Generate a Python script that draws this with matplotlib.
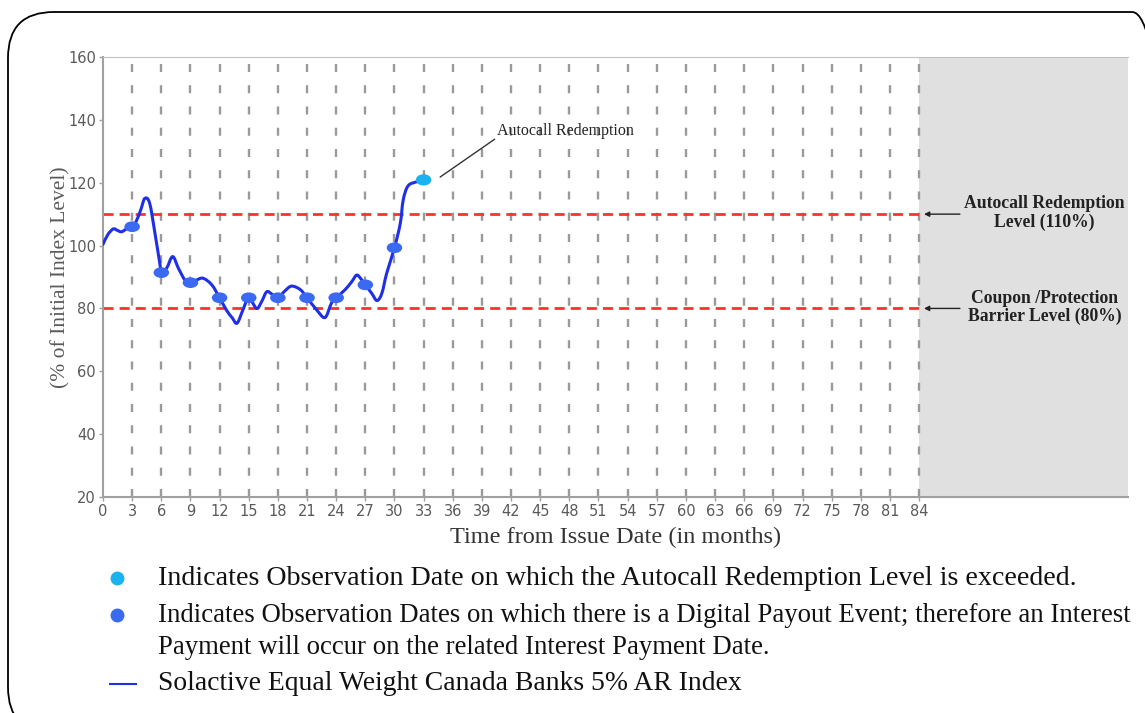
import matplotlib
matplotlib.use("Agg")
import matplotlib.pyplot as plt
from matplotlib.patches import Ellipse, FancyBboxPatch, PathPatch
from matplotlib.path import Path
from matplotlib.lines import Line2D

# index path (months, % of initial level)
index_months = [0, 0.5, 1.06, 1.5, 1.92, 2.5, 3.0, 3.4, 3.9, 4.3, 4.8, 5.35, 5.87, 6.0,
                6.55, 7.17, 7.76, 8.44, 9.0, 9.6, 10.3, 11.2, 12.0, 12.7, 13.3, 13.8,
                14.4, 15.0, 15.8, 16.3, 16.85, 17.4, 18.0, 18.7, 19.4, 20.3, 21.0, 22.0,
                22.85, 23.5, 24.0, 24.9, 25.6, 26.1, 26.5, 27.0, 27.66, 28.2, 28.7, 29.2,
                30.0, 30.6, 30.9, 31.4, 32.3, 33.1]
index_values = [100.4, 103.5, 105.3, 104.8, 104.4, 105.5, 106.2, 107.6, 111.5, 115.0, 113.5,
                103.9, 93.8, 91.4, 92.8, 96.5, 92.8, 89.0, 88.2, 89.0, 89.6, 87.5, 83.4,
                79.5, 77.0, 75.3, 79.5, 83.4, 80.0, 82.0, 85.3, 84.5, 83.4, 85.5, 87.1,
                86.0, 83.4, 79.5, 77.1, 81.6, 83.4, 85.9, 88.5, 90.6, 89.6, 87.5, 84.8,
                82.5, 84.8, 91.2, 99.3, 107.1, 114.5, 119.0, 120.3, 120.9]

obs_months = [3, 6, 9, 12, 15, 18, 21, 24, 27, 30]
obs_values = [106.0, 91.4, 88.2, 83.4, 83.4, 83.4, 83.4, 83.4, 87.5, 99.3]
autocall_month = [33]
autocall_value = [120.9]

autocall_level = 110
barrier_level = 80
x_ticks = list(range(0, 85, 3))
y_ticks = list(range(20, 161, 20))

line_blue = "#1f2fe6"
dot_blue = "#3a6af2"
dot_cyan = "#1ab2ef"
grey_txt = "#5a5a5a"
serif = "Liberation Serif"


def smooth_path(xs, ys):
    # Catmull-Rom style bezier through the read points (drawing only)
    verts = [(xs[0], ys[0])]
    codes = [Path.MOVETO]
    n = len(xs)
    for i in range(n - 1):
        x0, y0 = (xs[i - 1], ys[i - 1]) if i > 0 else (xs[i], ys[i])
        x1, y1 = xs[i], ys[i]
        x2, y2 = xs[i + 1], ys[i + 1]
        x3, y3 = (xs[i + 2], ys[i + 2]) if i + 2 < n else (x2, y2)
        verts += [(x1 + (x2 - x0) / 6, y1 + (y2 - y0) / 6),
                  (x2 - (x3 - x1) / 6, y2 - (y3 - y1) / 6),
                  (x2, y2)]
        codes += [Path.CURVE4] * 3
    return Path(verts, codes)


fig = plt.figure(figsize=(11.45, 7.13), dpi=100)

# rounded frame round the whole panel
frame = FancyBboxPatch((8 / 1145, -20 / 713), 1170 / 1145, 721 / 713,
                       boxstyle="round,pad=0,rounding_size=0.04",
                       transform=fig.transFigure, fc="none", ec="black", lw=1.3,
                       mutation_aspect=1145 / 713)
fig.patches.append(frame)

ax = fig.add_axes([103 / 1145, 1 - 497 / 713, 1025 / 1145, 440 / 713])
ax.set_xlim(0, 105.5)
ax.set_ylim(20, 160)

# grey area after maturity
ax.axvspan(84, 105.5, color="#e0e0e0", zorder=0, lw=0)

# vertical dashed guides
for m in x_ticks[1:]:
    ax.axvline(m, color="#9a9a9a", lw=1.7, dashes=(3.4, 5.6), zorder=1)

# barrier lines
ax.plot([0, 84], [autocall_level, autocall_level], color="#ff3030", lw=2,
        dashes=(3.6, 2.2), zorder=2)
ax.plot([0, 84], [barrier_level, barrier_level], color="#ff3030", lw=2,
        dashes=(3.6, 2.2), zorder=2)

# index path
ax.add_patch(PathPatch(smooth_path(index_months, index_values), fc="none",
                       ec=line_blue, lw=2.2, zorder=4, capstyle="round",
                       joinstyle="round"))

for m, v in zip(obs_months, obs_values):
    ax.add_patch(Ellipse((m, v), 1.6, 3.4, color=dot_blue, zorder=5, lw=0))
for m, v in zip(autocall_month, autocall_value):
    ax.add_patch(Ellipse((m, v), 1.6, 3.6, color=dot_cyan, zorder=5, lw=0))

# spines and ticks
for side in ["left", "bottom", "top"]:
    ax.spines[side].set_color("#a0a0a0")
    ax.spines[side].set_linewidth(1.5)
ax.spines["top"].set_linewidth(0.8)
ax.spines["top"].set_color("#c0c0c0")
ax.spines["right"].set_visible(False)
ax.set_xticks(x_ticks)
ax.set_yticks(y_ticks)
ax.tick_params(axis="both", colors="#a0a0a0", labelcolor=grey_txt, labelsize=10.5,
               length=3, width=1, pad=2)

ax.set_xlabel("Time from Issue Date (in months)", family=serif, fontsize=17.5,
              color="#333333", labelpad=6)
ax.set_ylabel("(% of Initial Index Level)", family=serif, fontsize=15.5,
              color=grey_txt, labelpad=-2)

# callout for the autocall point
ax.annotate("Autocall Redemption", xy=(34.7, 121.8), xytext=(40.6, 136.5),
            family=serif, fontsize=11.5, color="#222222", ha="left", va="center",
            arrowprops=dict(arrowstyle="-", color="#333333", lw=1,
                            shrinkA=0, shrinkB=0, relpos=(0, 0.1)))

# level labels in the grey area
for lvl, txt in [(autocall_level, "Autocall Redemption\nLevel (110%)"),
                 (barrier_level, "Coupon /Protection\nBarrier Level (80%)")]:
    ax.annotate("", xy=(84.5, lvl), xytext=(88.2, lvl),
                arrowprops=dict(arrowstyle="-|>,head_length=0.3,head_width=0.15",
                                color="#222222", lw=1, shrinkA=0, shrinkB=0))
    ax.text(96.9, lvl + 0.3, txt, family=serif, fontsize=12.7, fontweight="bold",
            color="#222222", ha="center", va="center", linespacing=1.12)

# legend under the chart
legend_y = [0.1893, 0.1374, 0.0912, 0.0407]
legend_text = [
    "Indicates Observation Date on which the Autocall Redemption Level is exceeded.",
    "Indicates Observation Dates on which there is a Digital Payout Event; therefore an Interest",
    "Payment will occur on the related Interest Payment Date.",
    "Solactive Equal Weight Canada Banks 5% AR Index",
]
legend_size = [20.2, 19.25, 19.25, 19.9]
for y, txt, fs in zip(legend_y, legend_text, legend_size):
    fig.text(158 / 1145, y, txt, family=serif, fontsize=fs, color="#111111",
             ha="left", va="center")

fig.add_artist(Line2D([117 / 1145], [legend_y[0]], marker="o", ms=9, color=dot_cyan,
                      transform=fig.transFigure, lw=0))
fig.add_artist(Line2D([117 / 1145], [legend_y[1]], marker="o", ms=9, color=dot_blue,
                      transform=fig.transFigure, lw=0))
fig.add_artist(Line2D([110 / 1145, 136 / 1145], [legend_y[3], legend_y[3]],
                      color=line_blue, lw=1.5, transform=fig.transFigure))

fig.savefig("out.png", dpi=100)
